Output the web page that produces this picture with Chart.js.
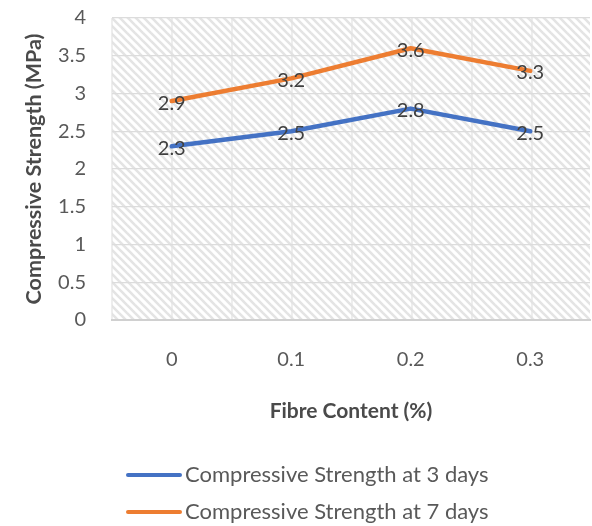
<!DOCTYPE html>
<html>
<head>
<meta charset="utf-8">
<script src="https://cdn.jsdelivr.net/npm/chart.js@4/dist/chart.umd.min.js"></script>
<style>
  html, body { margin: 0; padding: 0; background: #fff; }
  #wrap { width: 592px; height: 526px; position: relative; }
</style>
</head>
<body>
<div id="wrap"><canvas id="c" width="592" height="526"></canvas></div>
<script>
// Fibre content (%) on the x axis
const categories = ['0', '0.1', '0.2', '0.3'];
// Compressive strength (MPa)
const strength3Days = [2.3, 2.5, 2.8, 2.5];
const strength7Days = [2.9, 3.2, 3.6, 3.3];
const seriesNames = ['Compressive Strength at 3 days', 'Compressive Strength at 7 days'];
const yTicks = [0, 0.5, 1, 1.5, 2, 2.5, 3, 3.5, 4];

const FONT = 'Lato, "Open Sans", sans-serif';
const BLUE = '#4472C4';
const ORANGE = '#ED7D31';

// Diagonal hatch tile for the plot background
function makeHatch() {
  const t = document.createElement('canvas');
  t.width = 8; t.height = 8;
  const g = t.getContext('2d');
  g.fillStyle = '#ffffff';
  g.fillRect(0, 0, 8, 8);
  g.strokeStyle = '#e4e4e4';
  g.lineWidth = 2.6;
  for (const k of [-8, 0, 8]) {
    g.beginPath();
    g.moveTo(k - 1, -1);
    g.lineTo(k + 9, 9);
    g.stroke();
  }
  return t;
}
const hatchTile = makeHatch();

const backgroundPlugin = {
  id: 'plotBackground',
  beforeDraw(chart) {
    const { ctx, chartArea: a } = chart;
    ctx.save();
    const pat = ctx.createPattern(hatchTile, 'repeat');
    ctx.translate(a.left, a.top);
    ctx.fillStyle = pat;
    ctx.fillRect(0, 0, a.right - a.left, a.bottom - a.top);
    ctx.restore();
    // light lattice of vertical rules in the background
    ctx.save();
    ctx.strokeStyle = '#e2e2e2';
    ctx.lineWidth = 1.2;
    for (let x = a.left; x <= a.right + 0.5; x += 60) {
      ctx.beginPath();
      ctx.moveTo(x, a.top);
      ctx.lineTo(x, a.bottom);
      ctx.stroke();
    }
    ctx.restore();
  }
};

const valueLabelPlugin = {
  id: 'valueLabels',
  afterDatasetsDraw(chart) {
    const { ctx } = chart;
    ctx.save();
    ctx.font = '20px ' + FONT;
    ctx.fillStyle = '#404040';
    ctx.textAlign = 'center';
    ctx.textBaseline = 'middle';
    chart.data.datasets.forEach((ds, di) => {
      chart.getDatasetMeta(di).data.forEach((pt, i) => {
        ctx.fillText(String(ds.data[i]), pt.x, pt.y + 2);
      });
    });
    ctx.restore();
  }
};

const legendPlugin = {
  id: 'stackedLegend',
  afterDraw(chart) {
    const { ctx } = chart;
    const rows = [475, 512];
    ctx.save();
    ctx.font = '22px ' + FONT;
    ctx.textBaseline = 'middle';
    ctx.textAlign = 'left';
    chart.data.datasets.forEach((ds, i) => {
      const y = rows[i];
      ctx.strokeStyle = ds.borderColor;
      ctx.lineWidth = 4;
      ctx.lineCap = 'round';
      ctx.beginPath();
      ctx.moveTo(128, y);
      ctx.lineTo(180, y);
      ctx.stroke();
      ctx.fillStyle = '#595959';
      ctx.fillText(ds.label, 185, y);
    });
    ctx.restore();
  }
};

new Chart(document.getElementById('c'), {
  type: 'line',
  data: {
    labels: categories,
    datasets: [
      { label: seriesNames[0], data: strength3Days, borderColor: BLUE, backgroundColor: BLUE,
        borderWidth: 4.5, pointRadius: 0, tension: 0, borderCapStyle: 'round', borderJoinStyle: 'round' },
      { label: seriesNames[1], data: strength7Days, borderColor: ORANGE, backgroundColor: ORANGE,
        borderWidth: 4.5, pointRadius: 0, tension: 0, borderCapStyle: 'round', borderJoinStyle: 'round' }
    ]
  },
  options: {
    responsive: false,
    animation: false,
    layout: { autoPadding: false, padding: { left: 0, right: 2, top: 18, bottom: 102 } },
    plugins: { legend: { display: false }, tooltip: { enabled: false } },
    scales: {
      x: {
        type: 'category',
        offset: true,
        grid: { display: false, drawTicks: false },
        border: { display: true, color: '#d0d0d0', width: 2 },
        ticks: { color: '#595959', font: { family: FONT, size: 20 }, padding: 28 },
        title: { display: true, text: 'Fibre Content (%)', color: '#4a4a4a',
                 font: { family: FONT, size: 21, weight: 'bold' }, padding: { top: 0, bottom: 0 } },
        afterFit(scale) { scale.height = 104; }
      },
      y: {
        min: 0, max: 4,
        afterBuildTicks(scale) { scale.ticks = yTicks.map(v => ({ value: v })); },
        grid: { color: '#dcdcdc', lineWidth: 1.2, drawTicks: false },
        border: { display: false },
        ticks: { color: '#595959', font: { family: FONT, size: 20 }, padding: 26,
                 callback: (v) => String(v) },
        title: { display: true, text: 'Compressive Strength (MPa)', color: '#4a4a4a',
                 font: { family: FONT, size: 21.5, weight: 'bold' }, padding: { top: 21, bottom: 0 } },
        afterFit(scale) { scale.width = 112; scale.paddingTop = 0; scale.paddingBottom = 0; }
      }
    }
  },
  plugins: [backgroundPlugin, valueLabelPlugin, legendPlugin]
});
</script>
</body>
</html>
